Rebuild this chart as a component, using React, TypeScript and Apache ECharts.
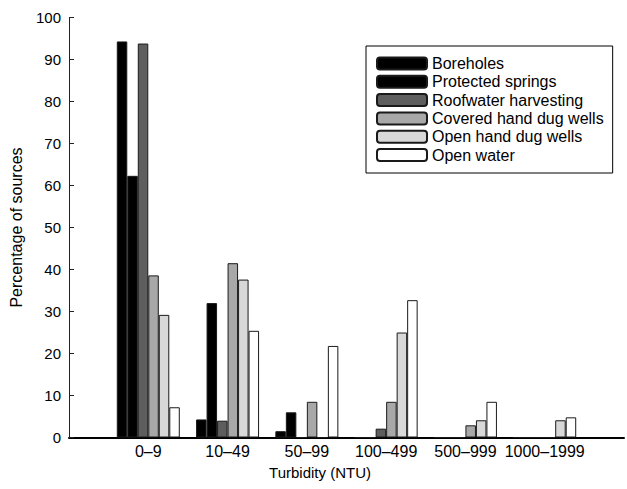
import React, { useEffect, useRef } from "react";
import * as echarts from "echarts";

const categories = ["0–9", "10–49", "50–99", "100–499", "500–999", "1000–1999"];
const seriesNames = [
  "Boreholes",
  "Protected springs",
  "Roofwater harvesting",
  "Covered hand dug wells",
  "Open hand dug wells",
  "Open water",
];
const boreholes = [94.3, 4.3, 1.5, 0, 0, 0];
const protectedSprings = [62.3, 32.0, 6.0, 0, 0, 0];
const roofwater = [93.8, 4.0, 0, 2.1, 0, 0];
const coveredDug = [38.6, 41.5, 8.5, 8.5, 2.9, 0];
const openDug = [29.2, 37.6, 0, 25.0, 4.1, 4.1];
const openWater = [7.2, 25.4, 21.8, 32.7, 8.5, 4.8];
const colors = ["#000000", "#000000", "#5e5e5e", "#a8a8a8", "#d8d8d8", "#ffffff"];
const yTicks = [0, 10, 20, 30, 40, 50, 60, 70, 80, 90, 100];

const FONT = "'Liberation Sans', Arial, sans-serif";

export default function App() {
  const ref = useRef<HTMLDivElement>(null);
  useEffect(() => {
    if (!ref.current) return;
    const chart = echarts.init(ref.current, undefined, { renderer: "svg" });
    const allSeries = [boreholes, protectedSprings, roofwater, coveredDug, openDug, openWater];
    const xData = ["", ...categories, ""];
    const option = {
      animation: false,
      backgroundColor: "#ffffff",
      textStyle: { fontFamily: FONT },
      grid: { left: 69, top: 17.5, width: 560, height: 420, containLabel: false },
      legend: {
        orient: "vertical",
        left: 366,
        top: 46,
        itemWidth: 50,
        itemHeight: 12,
        itemGap: 2.3,
        padding: [9.5, 9, 10, 10],
        borderColor: "#000",
        borderWidth: 1,
        textStyle: { fontSize: 16, color: "#000", fontFamily: FONT, lineHeight: 16 },
        data: seriesNames,
      },
      xAxis: {
        type: "category",
        data: xData,
        boundaryGap: false,
        axisLine: { show: true, lineStyle: { color: "#000", width: 2 } },
        axisTick: { show: false },
        axisLabel: { fontSize: 16, color: "#000", margin: 6, fontFamily: FONT, interval: 0 },
        splitLine: { show: false },
      },
      yAxis: {
        type: "value",
        min: yTicks[0],
        max: yTicks[yTicks.length - 1],
        interval: 10,
        axisLine: { show: true, lineStyle: { color: "#222", width: 1 } },
        axisTick: { show: true, inside: true, length: 5, lineStyle: { color: "#222" } },
        axisLabel: { fontSize: 15, color: "#000", margin: 8, fontFamily: FONT },
        splitLine: { show: false },
        name: "Percentage of sources",
        nameLocation: "middle",
        nameGap: 45,
        nameTextStyle: { fontSize: 16, color: "#000", fontFamily: FONT },
      },
      graphic: [
        {
          type: "text",
          x: 320,
          y: 472,
          style: {
            text: "Turbidity (NTU)",
            fontSize: 15,
            fontFamily: FONT,
            fill: "#000",
            textAlign: "center",
            textVerticalAlign: "middle",
          },
        },
      ],
      series: allSeries.map((vals, i) => ({
        name: seriesNames[i],
        type: "bar",
        barWidth: 10.5,
        barGap: "0%",
        data: [null, ...vals, null],
        itemStyle: { color: colors[i], borderColor: "#1a1a1a", borderWidth: 1 },
      })),
    };
    chart.setOption(option as any);
    return () => chart.dispose();
  }, []);
  return (
    <div
      ref={ref}
      style={{ position: "fixed", left: 0, top: 0, width: 627, height: 489, background: "#fff" }}
    />
  );
}
